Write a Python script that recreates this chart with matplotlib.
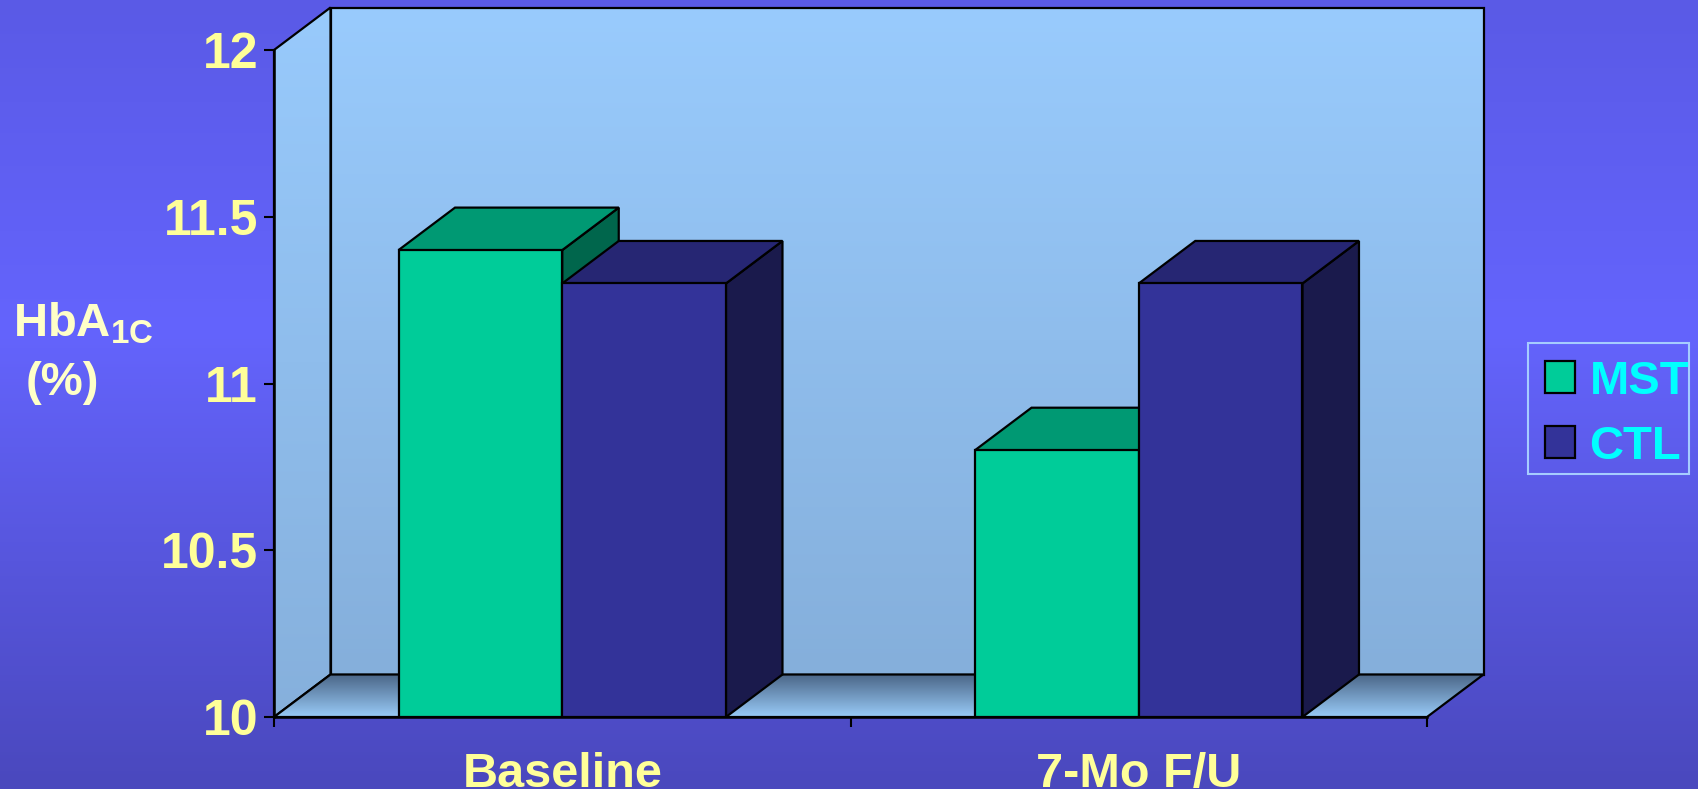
import numpy as np
import matplotlib.pyplot as plt
from matplotlib.patches import Polygon, Patch, Rectangle
from matplotlib.colors import LinearSegmentedColormap

plt.rcParams['font.family'] = ['Liberation Sans', 'DejaVu Sans']
plt.rcParams['mathtext.fontset'] = 'custom'
plt.rcParams['mathtext.rm'] = 'Liberation Sans:bold'
plt.rcParams['mathtext.bf'] = 'Liberation Sans:bold'

categories = ['Baseline', '7-Mo F/U']
series = ['MST', 'CTL']
mst = [11.4, 10.8]
ctl = [11.3, 11.3]
yticks = [10, 10.5, 11, 11.5, 12]
yticklabels = ['10', '10.5', '11', '11.5', '12']

YMIN, YMAX = 10, 12
BAR_W = 0.284
DEPTH_PX = (56.5, 42.5)   # 3d depth of walls and bars, in pixels

front_colors = ['#00cc99', '#333399']
top_colors = ['#009973', '#262673']
side_colors = ['#00664c', '#1a1a4c']

W, H = 1698, 789
fig = plt.figure(figsize=(W / 100, H / 100), dpi=100)

# slide background
bg = fig.add_axes([0, 0, 1, 1], zorder=-10)
bg_cmap = LinearSegmentedColormap.from_list('bg', [(0, '#5a5ae6'), (0.42, '#6464fd'), (1, '#4a48bd')])
bg.imshow(np.linspace(0, 1, 256)[:, None], cmap=bg_cmap, aspect='auto', extent=[0, 1, 0, 1])
bg.axis('off')

ax = fig.add_axes([274 / W, 72 / H, 1153 / W, 667 / H])
ax.set_xlim(-0.5, 1.5)
ax.set_ylim(YMIN, YMAX)
ax.patch.set_visible(False)

# depth offset converted to data units
p0 = ax.transData.transform((0, YMIN))
dx, dy = ax.transData.inverted().transform(p0 + np.array(DEPTH_PX)) - np.array([0, YMIN])


def face(pts, color, z):
    p = Polygon(pts, closed=True, facecolor=color, edgecolor='black', lw=1.6,
                joinstyle='miter', clip_on=False, zorder=z)
    ax.add_patch(p)
    return p


def gradient_face(pts, c_top, c_bottom, z):
    p = face(pts, 'none', z + 0.1)
    xs, ys = zip(*pts)
    cmap = LinearSegmentedColormap.from_list('g', [c_top, c_bottom])
    im = ax.imshow(np.linspace(0, 1, 256)[:, None], cmap=cmap, aspect='auto',
                   extent=[min(xs), max(xs), min(ys), max(ys)], zorder=z,
                   interpolation='bilinear')
    im.set_clip_box(fig.bbox)
    im.set_clip_path(p)


x0, x1 = -0.5, 1.5
# back wall, left wall, floor
gradient_face([(x0 + dx, YMIN + dy), (x1 + dx, YMIN + dy), (x1 + dx, YMAX + dy), (x0 + dx, YMAX + dy)],
              '#99cbfd', '#85afdb', 0.5)
gradient_face([(x0, YMIN), (x0, YMAX), (x0 + dx, YMAX + dy), (x0 + dx, YMIN + dy)],
              '#98cafc', '#86b0dc', 0.7)
gradient_face([(x0, YMIN), (x1, YMIN), (x1 + dx, YMIN + dy), (x0 + dx, YMIN + dy)],
              '#4a6586', '#99cbf8', 0.9)

# 3d bars
x = np.arange(len(categories))
z = 3
for i in range(len(categories)):
    for j, vals in enumerate([mst, ctl]):
        v = vals[i]
        left = x[i] + (j - 1) * BAR_W
        right = left + BAR_W
        face([(right, YMIN), (right, v), (right + dx, v + dy), (right + dx, YMIN + dy)], side_colors[j], z)
        face([(left, v), (right, v), (right + dx, v + dy), (left + dx, v + dy)], top_colors[j], z + 0.1)
        ax.bar(left, v - YMIN, bottom=YMIN, width=BAR_W, align='edge', color=front_colors[j],
               edgecolor='black', lw=1.6, zorder=z + 0.2)
        z += 1

ax.set_xlim(-0.5, 1.5)
ax.set_ylim(YMIN, YMAX)

for s in ['top', 'right']:
    ax.spines[s].set_visible(False)
for s in ['left', 'bottom']:
    ax.spines[s].set_linewidth(1.8)
    ax.spines[s].set_zorder(20)

label_color = '#ffff99'
ax.set_yticks(yticks)
ax.set_yticklabels(yticklabels, fontsize=36, fontweight='bold', color=label_color)
ax.tick_params(axis='y', length=7.5, width=1.5, pad=4)
ax.set_xticks(x)
ax.set_xticklabels(categories, fontsize=35, fontweight='bold', color=label_color)
ax.set_xticks([-0.5, 0.5, 1.5], minor=True)
ax.tick_params(axis='x', which='major', length=0, pad=25)
ax.tick_params(axis='x', which='minor', length=7.5, width=1.5)

fig.text(13 / W, 1 - 336 / H, r'HbA$_{\mathrm{1C}}$', fontsize=34, fontweight='bold',
         color='#ffffc8', ha='left', va='baseline')
fig.text(62 / W, 1 - 395 / H, '(%)', fontsize=34, fontweight='bold',
         color='#ffffc8', ha='center', va='baseline')

handles = [Patch(facecolor=front_colors[k], edgecolor='black', lw=1.6) for k in range(2)]
leg = fig.legend(handles, series, loc='upper left', bbox_to_anchor=(1528 / W, 1 - 343 / H),
                 borderaxespad=0, prop={'weight': 'bold', 'size': 34}, frameon=False,
                 handlelength=0.65, handleheight=0.65, handletextpad=0.3,
                 borderpad=0.35, labelspacing=0.45)
for t in leg.get_texts():
    t.set_color('#00ffff')

# legend box, tight on the right like the slide's
fig.patches.append(Rectangle((1528 / W, 1 - 474 / H), 161 / W, 131 / H, transform=fig.transFigure,
                             facecolor='none', edgecolor='#a6ccff', lw=1.5, zorder=5))

fig.savefig('out.png', dpi=100)
